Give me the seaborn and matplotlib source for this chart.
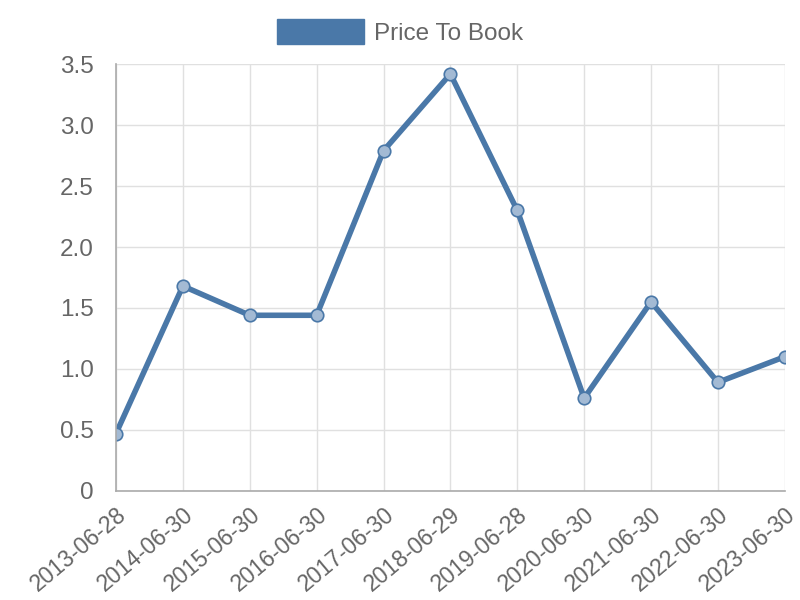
import matplotlib.pyplot as plt
import pandas as pd
import seaborn as sns
from matplotlib.patches import Patch

# Data
dates = ['2013-06-28', '2014-06-30', '2015-06-30', '2016-06-30', '2017-06-30',
         '2018-06-29', '2019-06-28', '2020-06-30', '2021-06-30', '2022-06-30',
         '2023-06-30']
price_to_book = [0.47, 1.68, 1.44, 1.44, 2.79, 3.42, 2.30, 0.76, 1.55, 0.89, 1.10]
y_ticks = [0, 0.5, 1.0, 1.5, 2.0, 2.5, 3.0, 3.5]
y_tick_labels = ['0', '0.5', '1.0', '1.5', '2.0', '2.5', '3.0', '3.5']

df = pd.DataFrame({'date': dates, 'value': price_to_book})

sns.set_style('white')
plt.rcParams['font.family'] = ['Liberation Sans', 'DejaVu Sans']

line_color = '#4a78a8'
text_color = '#666666'

fig = plt.figure(figsize=(8, 6), dpi=100)
ax = fig.add_axes([0.145, 0.182, 0.836, 0.711])

sns.lineplot(data=df, x='date', y='value', ax=ax, color=line_color,
             linewidth=4, marker='o', markersize=9,
             markerfacecolor='#a3bad4', markeredgecolor=line_color,
             markeredgewidth=1.2, sort=False)

ax.set_xlim(0, len(dates) - 1)
ax.set_ylim(0, 3.5)
ax.set_yticks(y_ticks)
ax.set_yticklabels(y_tick_labels)
ax.set_xlabel('')
ax.set_ylabel('')

ax.grid(True, color='#e0e0e0', linewidth=1)
ax.set_axisbelow(True)
for side in ['top', 'right']:
    ax.spines[side].set_visible(False)
for side in ['left', 'bottom']:
    ax.spines[side].set_color('#aaaaaa')
    ax.spines[side].set_linewidth(1.2)

ax.tick_params(axis='both', length=8, width=1, color='#e0e0e0',
               labelcolor=text_color)
ax.tick_params(axis='y', pad=8, labelsize=17.5)
ax.tick_params(axis='x', pad=1, labelsize=16.5)
plt.setp(ax.get_xticklabels(), rotation=40, ha='right', rotation_mode='anchor')

handle = Patch(facecolor=line_color, edgecolor=line_color)
fig.legend([handle], ['Price To Book'], loc='center', bbox_to_anchor=(0.5, 0.947),
           frameon=False, fontsize=17.5, labelcolor=text_color,
           handlelength=3.6, handleheight=1.25, handletextpad=0.4)

fig.savefig('out.png', dpi=100)
